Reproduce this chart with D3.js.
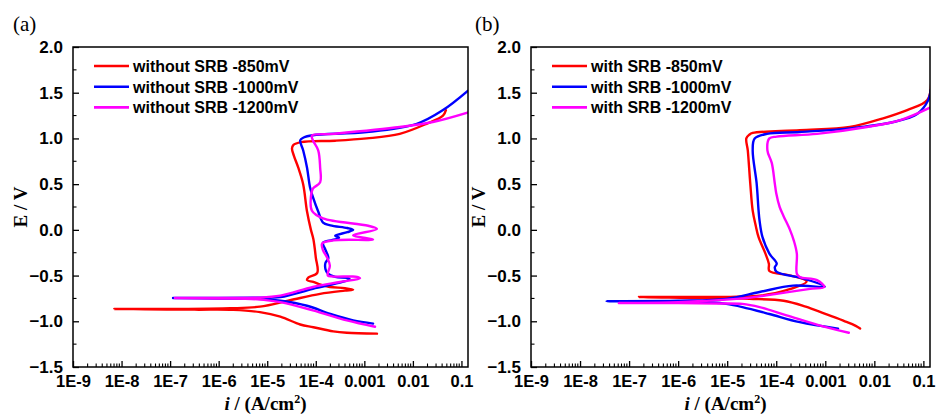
<!DOCTYPE html>
<html><head><meta charset="utf-8">
<script src="https://cdn.jsdelivr.net/npm/d3@7"></script>
<style>body{margin:0;background:#fff}svg{display:block}</style>
</head><body><svg id="c" width="937" height="414"></svg>
<script>
// ---- data: [log10(i / A cm^-2), E / V] ----
const xTickLabels = ["1E-9","1E-8","1E-7","1E-6","1E-5","1E-4","0.001","0.01","0.1"];
const xTickExps = [-9,-8,-7,-6,-5,-4,-3,-2,-1];
const yTicks = [-1.5,-1.0,-0.5,0.0,0.5,1.0,1.5,2.0];
const legendA = ["without SRB -850mV","without SRB -1000mV","without SRB -1200mV"];
const legendB = ["with SRB -850mV","with SRB -1000mV","with SRB -1200mV"];
const seriesColors = ["#ff0000","#0000ff","#ff00ff"];

const aRed850Cathodic = [[-8.15,-0.865],[-6.5,-0.873],[-5.7,-0.875],[-5.15,-0.90],[-4.73,-0.95],[-4.32,-1.035],[-4.05,-1.065],[-3.64,-1.11],[-3.36,-1.125],[-2.74,-1.135]];
const aRed850Anodic = [[-8.15,-0.865],[-6.79,-0.865],[-5.76,-0.858],[-5.15,-0.84],[-4.53,-0.77],[-3.91,-0.70],[-3.40,-0.665],[-3.23,-0.655],[-3.40,-0.637],[-3.71,-0.625],[-3.90,-0.60],[-4.05,-0.57],[-4.18,-0.55],[-4.15,-0.52],[-3.97,-0.47],[-4.0,-0.3],[-4.05,-0.1],[-4.10,0.0],[-4.18,0.2],[-4.26,0.5],[-4.36,0.68],[-4.45,0.81],[-4.49,0.89],[-4.46,0.93],[-4.3,0.96],[-3.6,0.975],[-2.95,1.0],[-2.27,1.05],[-1.72,1.16],[-1.38,1.25],[-1.32,1.31]];

const aBlue1000Cathodic = [[-6.94,-0.745],[-6.0,-0.75],[-5.2,-0.755],[-4.73,-0.775],[-4.18,-0.83],[-3.70,-0.92],[-3.23,-0.99],[-2.82,-1.025]];
const aBlue1000Anodic = [[-6.94,-0.745],[-6.0,-0.745],[-5.3,-0.742],[-4.73,-0.735],[-4.06,-0.645],[-3.45,-0.57],[-3.30,-0.54],[-3.35,-0.525],[-3.6,-0.515],[-3.75,-0.48],[-3.80,-0.43],[-3.80,-0.36],[-3.74,-0.31],[-3.80,-0.22],[-3.85,-0.14],[-3.6,-0.105],[-3.52,-0.085],[-3.6,-0.065],[-3.35,-0.025],[-3.23,0.0],[-3.35,0.02],[-3.7,0.05],[-3.85,0.08],[-3.95,0.2],[-4.06,0.36],[-4.12,0.47],[-4.18,0.68],[-4.26,0.87],[-4.32,0.98],[-4.25,1.01],[-4.06,1.035],[-2.95,1.07],[-1.92,1.16],[-1.38,1.31],[-0.87,1.52]];

const aMag1200Cathodic = [[-6.9,-0.745],[-6.0,-0.75],[-5.2,-0.76],[-4.73,-0.79],[-4.06,-0.88],[-3.36,-0.99],[-2.78,-1.06]];
const aMag1200Anodic = [[-6.9,-0.745],[-6.0,-0.745],[-5.2,-0.742],[-4.73,-0.72],[-4.06,-0.625],[-3.50,-0.57],[-3.09,-0.53],[-3.15,-0.515],[-3.29,-0.51],[-3.75,-0.50],[-3.75,-0.47],[-3.71,-0.39],[-3.77,-0.30],[-3.85,-0.225],[-3.87,-0.15],[-3.64,-0.115],[-2.82,-0.105],[-3.23,-0.06],[-2.74,0.01],[-2.92,0.045],[-3.85,0.125],[-4.08,0.21],[-4.10,0.36],[-4.06,0.45],[-3.91,0.52],[-3.91,0.68],[-3.95,0.87],[-4.06,0.98],[-4.08,1.03],[-3.64,1.05],[-2.27,1.125],[-1.59,1.18],[-0.83,1.29]];

const bRed850Cathodic = [[-6.80,-0.735],[-5.5,-0.745],[-4.55,-0.755],[-3.85,-0.775],[-3.4,-0.84],[-3.0,-0.92],[-2.6,-1.0],[-2.38,-1.05],[-2.29,-1.08]];
const bRed850Anodic = [[-6.80,-0.735],[-5.5,-0.735],[-4.8,-0.73],[-4.34,-0.72],[-3.79,-0.66],[-3.38,-0.565],[-3.7,-0.50],[-4.14,-0.45],[-4.15,-0.37],[-4.22,-0.26],[-4.36,-0.08],[-4.42,0.05],[-4.48,0.21],[-4.53,0.51],[-4.58,0.87],[-4.61,1.0],[-4.55,1.04],[-4.48,1.06],[-3.52,1.09],[-2.50,1.125],[-1.82,1.22],[-1.33,1.31],[-0.92,1.42],[-0.84,1.62]];

const bBlue1000Cathodic = [[-7.46,-0.78],[-6.0,-0.785],[-5.3,-0.795],[-5.02,-0.81],[-4.69,-0.845],[-4.14,-0.92],[-3.52,-1.01],[-2.74,-1.08]];
const bBlue1000Anodic = [[-7.46,-0.78],[-6.0,-0.775],[-5.02,-0.755],[-4.34,-0.68],[-3.66,-0.61],[-3.01,-0.62],[-3.46,-0.53],[-3.99,-0.46],[-4.03,-0.41],[-3.99,-0.37],[-4.14,-0.26],[-4.28,-0.08],[-4.34,0.10],[-4.36,0.21],[-4.40,0.51],[-4.48,0.87],[-4.44,1.0],[-4.19,1.05],[-3.52,1.07],[-2.50,1.11],[-1.61,1.18],[-1.12,1.27],[-0.9,1.42],[-0.85,1.53]];

const bMag1200Cathodic = [[-7.21,-0.80],[-6.0,-0.80],[-5.2,-0.805],[-4.69,-0.81],[-4.34,-0.845],[-3.79,-0.935],[-3.12,-1.045],[-2.52,-1.125]];
const bMag1200Anodic = [[-7.21,-0.80],[-6.0,-0.79],[-4.69,-0.75],[-3.99,-0.70],[-3.31,-0.645],[-3.02,-0.625],[-3.17,-0.55],[-3.52,-0.515],[-3.58,-0.48],[-3.58,-0.26],[-3.64,-0.12],[-3.72,0.0],[-3.85,0.15],[-3.93,0.25],[-4.0,0.40],[-4.03,0.51],[-4.09,0.73],[-4.18,0.87],[-4.14,1.0],[-3.99,1.02],[-3.17,1.05],[-2.15,1.125],[-1.47,1.2],[-0.85,1.34]];

// ---- drawing ----
const svg = d3.select("#c");
svg.append("rect").attr("width",937).attr("height",414).attr("fill","#fff");
const plotTop = 47, plotBottom = 367;
const panels = [
  {id:"a", tag:"(a)", tagX:13, left:73, right:468, legend:legendA,
   series:[[aRed850Cathodic,aRed850Anodic],[aBlue1000Cathodic,aBlue1000Anodic],[aMag1200Cathodic,aMag1200Anodic]]},
  {id:"b", tag:"(b)", tagX:475, left:531, right:930, legend:legendB,
   series:[[bRed850Cathodic,bRed850Anodic],[bBlue1000Cathodic,bBlue1000Anodic],[bMag1200Cathodic,bMag1200Anodic]]}
];
const sans = "'Liberation Sans', Arial, sans-serif";
const serif = "'Liberation Serif', 'Times New Roman', serif";

panels.forEach(p => {
  const x = d3.scaleLog().domain([1e-9, Math.pow(10,-0.865)]).range([p.left, p.right]);
  const y = d3.scaleLinear().domain([-1.5, 2.0]).range([plotBottom, plotTop]);
  const g = svg.append("g");

  g.append("clipPath").attr("id","clip"+p.id).append("rect")
    .attr("x",p.left).attr("y",plotTop).attr("width",p.right-p.left).attr("height",plotBottom-plotTop);

  // curves
  const line = d3.line().x(d => x(Math.pow(10,d[0]))).y(d => y(d[1])).curve(d3.curveCatmullRom.alpha(0.5));
  p.series.forEach((s,k) => {
    const pts = s[0].slice().reverse().concat(s[1].slice(1));
    g.append("path").attr("d", line(pts)).attr("fill","none")
      .attr("stroke", seriesColors[k]).attr("stroke-width",2.4)
      .attr("stroke-linejoin","round").attr("stroke-linecap","round")
      .attr("clip-path","url(#clip"+p.id+")");
  });

  // frame
  g.append("rect").attr("x",p.left).attr("y",plotTop).attr("width",p.right-p.left).attr("height",plotBottom-plotTop)
    .attr("fill","none").attr("stroke","#000").attr("stroke-width",1.5);

  // x axis ticks (inward)
  const minorX = [];
  xTickExps.forEach(e => { for (let m=2;m<=9;m++){ const v=m*Math.pow(10,e); if (v < x.domain()[1]) minorX.push(v);} });
  const xAxis = d3.axisBottom(x).tickValues(xTickExps.map(e=>Math.pow(10,e))).tickSizeInner(-6).tickSizeOuter(0)
    .tickFormat((d,i)=>xTickLabels[i]).tickPadding(8);
  const xg = g.append("g").attr("transform",`translate(0,${plotBottom})`).call(xAxis);
  xg.select(".domain").remove();
  xg.selectAll(".tick line").attr("stroke","#000").attr("stroke-width",1.3);
  xg.selectAll(".tick text").attr("font-family",sans).attr("font-weight","bold").attr("font-size",16.5).attr("fill","#000");
  g.append("g").selectAll("line").data(minorX).join("line")
    .attr("x1",d=>x(d)).attr("x2",d=>x(d)).attr("y1",plotBottom).attr("y2",plotBottom-3.5)
    .attr("stroke","#000").attr("stroke-width",1.1);

  // y axis ticks (inward)
  const yAxis = d3.axisLeft(y).tickValues(yTicks).tickSizeInner(-6).tickSizeOuter(0)
    .tickFormat(d3.format(".1f")).tickPadding(10);
  const yg = g.append("g").attr("transform",`translate(${p.left},0)`).call(yAxis);
  yg.select(".domain").remove();
  yg.selectAll(".tick line").attr("stroke","#000").attr("stroke-width",1.3);
  yg.selectAll(".tick text").attr("font-family",sans).attr("font-weight","bold").attr("font-size",17).attr("fill","#000");
  const minorY = d3.range(-1.25, 2.0, 0.5);
  g.append("g").selectAll("line").data(minorY).join("line")
    .attr("x1",p.left).attr("x2",p.left+3.5).attr("y1",d=>y(d)).attr("y2",d=>y(d))
    .attr("stroke","#000").attr("stroke-width",1.1);

  // axis titles
  const cx = (p.left+p.right)/2 - 5;
  const xt = g.append("text").attr("x",cx).attr("y",410).attr("text-anchor","middle")
    .attr("font-family",serif).attr("font-weight","bold").attr("font-size",19).attr("fill","#000");
  xt.append("tspan").attr("font-style","italic").text("i");
  xt.append("tspan").text(" / (A/cm");
  xt.append("tspan").attr("font-size",12).attr("dy",-7).text("2");
  xt.append("tspan").attr("dy",7).text(")");

  g.append("text").attr("transform",`translate(${p.left-46},${(plotTop+plotBottom)/2}) rotate(-90)`)
    .attr("text-anchor","middle").attr("font-family",serif).attr("font-weight","bold")
    .attr("font-size",19).attr("fill","#000").text("E / V");

  // panel tag
  g.append("text").attr("x",p.tagX).attr("y",31).attr("font-family",serif).attr("font-size",21)
    .attr("fill","#000").text(p.tag);

  // legend
  p.legend.forEach((t,k) => {
    const ly = 66 + k*20.7;
    g.append("line").attr("x1",p.left+21).attr("x2",p.left+56).attr("y1",ly).attr("y2",ly)
      .attr("stroke",seriesColors[k]).attr("stroke-width",2.6);
    g.append("text").attr("x",p.left+60).attr("y",ly+6).attr("font-family",sans).attr("font-weight","bold")
      .attr("font-size",16).attr("fill","#000").text(t);
  });
});
</script></body></html>
